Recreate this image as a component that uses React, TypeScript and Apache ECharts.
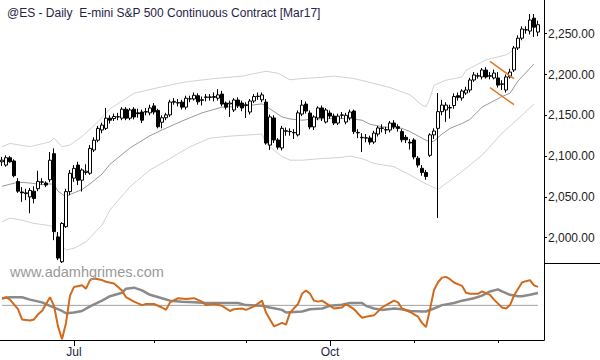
import React, { useEffect, useRef } from 'react';
import * as echarts from 'echarts';

const chartTitle = '@ES - Daily  E-mini S&P 500 Continuous Contract [Mar17]';
const watermark = 'www.adamhgrimes.com';
const firstDay = '2016-06-07';
const lastDay = '2016-12-15';
const holidays = ['2016-07-04', '2016-09-05', '2016-11-24'];
const monthNames = ['Jan', 'Feb', 'Mar', 'Apr', 'May', 'Jun', 'Jul', 'Aug', 'Sep', 'Oct', 'Nov', 'Dec'];
const labelledMonths = ['Jul', 'Oct'];

const opens = [
  2093, 2089, 2098, 2094, 2069, 2056, 2054, 2050, 2057, 2060, 2068, 2067, 2071, 2103, 2001, 1970.5, 2013.5, 2056.5, 2073, 2089,
  2070.5, 2080, 2079, 2107.5, 2119.5, 2132, 2134, 2146.5, 2146, 2148, 2146.5, 2157.5, 2146.5, 2157.5, 2153, 2154, 2154, 2153, 2161.5, 2156,
  2141.5, 2147, 2150.5, 2166, 2165, 2166.25, 2160, 2170, 2170, 2174, 2169, 2172, 2172.5, 2172, 2171, 2176, 2165, 2164, 2156.5, 2168.75,
  2165, 2162, 2154, 2167.5, 2173.5, 2169, 2166.25, 2113.5, 2146.75, 2119.75, 2110, 2131, 2130, 2129, 2126, 2151.5, 2163.75, 2152.75, 2135.75, 2146.75,
  2159, 2141.75, 2152.75, 2149, 2140.5, 2150, 2141.75, 2146.75, 2155.25, 2129, 2123, 2122, 2122.25, 2117.25, 2127, 2134, 2132, 2132, 2140.5, 2136,
  2130, 2123, 2117, 2119.75, 2097.5, 2085, 2080, 2101, 2126, 2134, 2154.5, 2156.5, 2159, 2162, 2174, 2171.25, 2177.25, 2181, 2193.25, 2198,
  2197, 2205.5, 2198.5, 2195.75, 2195.75, 2188.5, 2181, 2197, 2205.5, 2232.5, 2244.5, 2254.5, 2253.25, 2269, 2252
];
const highs = [
  2099, 2101, 2100, 2096, 2073, 2062, 2060, 2061, 2063, 2082, 2073, 2069, 2105, 2109.5, 2007, 2019, 2060, 2083, 2089, 2093,
  2085, 2090, 2113.5, 2123, 2137, 2141, 2159, 2150, 2152, 2153, 2160, 2160, 2159, 2160, 2158, 2157, 2159, 2163, 2165, 2158,
  2150, 2153, 2169, 2171, 2170, 2169, 2174, 2174, 2178, 2177, 2173, 2176, 2176, 2178, 2182, 2180, 2167, 2168, 2171, 2172,
  2168, 2166, 2170, 2176, 2178, 2178, 2170, 2151, 2150, 2122, 2137, 2135, 2134, 2133, 2156, 2168.75, 2167, 2156, 2150, 2161,
  2162, 2159, 2156, 2152, 2152, 2154, 2153, 2157, 2157, 2133, 2128, 2127, 2125, 2131, 2137, 2139, 2136, 2143, 2144, 2139,
  2133, 2126, 2121, 2122, 2100, 2089, 2083, 2128, 2134, 2177.25, 2169, 2166, 2163, 2177, 2178, 2182, 2185, 2196, 2203, 2202,
  2208, 2209, 2203, 2206, 2203, 2193, 2200, 2207, 2235, 2248, 2259, 2259, 2274, 2274, 2266
];
const lows = [
  2088, 2087, 2092, 2074, 2055, 2044, 2046, 2030, 2042, 2057, 2065, 2062, 2068, 1997, 1972.5, 1969, 2012, 2052, 2068.5, 2064.5,
  2056.5, 2077, 2077, 2105, 2117, 2128, 2132, 2140, 2143, 2144, 2144, 2144, 2144, 2145, 2147, 2140.5, 2150, 2150, 2151, 2134,
  2134, 2144, 2148, 2163, 2161, 2157, 2157, 2166, 2168, 2163, 2162, 2167, 2168, 2167, 2168, 2161, 2157, 2148, 2154, 2159,
  2155, 2146.75, 2151, 2165, 2169, 2166, 2114, 2107.5, 2116, 2108, 2107, 2125, 2125, 2121, 2124, 2149, 2152, 2133, 2132, 2144,
  2143, 2140, 2146, 2138, 2138, 2146, 2139, 2144, 2127, 2122, 2105, 2117, 2114, 2115, 2124, 2129, 2127, 2129, 2133, 2130,
  2117, 2116, 2108, 2096, 2086, 2076, 2071, 2099, 2121, 2024.25, 2150, 2142, 2146, 2158, 2168, 2168, 2175, 2178, 2191, 2195,
  2194, 2195, 2194, 2194, 2184, 2181, 2178, 2195, 2203, 2230, 2242, 2250, 2249, 2246, 2247
];
const closes = [
  2095, 2098, 2093, 2076, 2057, 2055, 2055, 2058, 2048, 2069, 2068.5, 2064.5, 2095, 2007.5, 1975, 2017.5, 2056.5, 2079, 2085, 2070.5,
  2083, 2081.5, 2109.5, 2119.5, 2134, 2138, 2146.5, 2144, 2148.5, 2148.25, 2157.5, 2146.5, 2156.5, 2148, 2152, 2144, 2154.5, 2159, 2154, 2136,
  2147, 2150.5, 2166.25, 2167, 2165.5, 2160, 2171, 2170.25, 2174.5, 2166.5, 2168.5, 2172.5, 2172, 2173, 2175, 2163.75, 2160, 2165, 2168.75, 2162,
  2159, 2163, 2167.5, 2173, 2173, 2175, 2116, 2148, 2119.75, 2111, 2134, 2130.5, 2130.25, 2128.5, 2153, 2162.5, 2155.25, 2135.75, 2148, 2159,
  2146.75, 2156.5, 2149, 2140.5, 2149, 2150.5, 2150, 2154, 2130, 2128.5, 2122.5, 2122.5, 2117.25, 2128.25, 2134.5, 2134.5, 2132.5, 2140.5, 2135.75, 2134,
  2120, 2120, 2116, 2099, 2089, 2080, 2075, 2126, 2130.75, 2154.5, 2162.5, 2162.5, 2159.5, 2173, 2172, 2179.75, 2181, 2193.25, 2199.5, 2198.5,
  2205.5, 2197, 2198, 2201.75, 2187, 2188, 2197, 2203, 2232.5, 2244.5, 2255.75, 2255, 2266.75, 2258, 2261
];

const midBand = [
  [0, 2063], [4, 2068], [7, 2067], [10, 2065], [12, 2066], [13, 2065], [14, 2057], [16, 2050], [17, 2053], [20, 2059],
  [22, 2066], [25, 2078], [27, 2090], [30, 2102], [32, 2110], [37, 2125], [40, 2132], [45, 2143], [50, 2153], [55, 2160],
  [60, 2161], [65, 2164], [66, 2161], [70, 2148], [72, 2145.5], [75, 2144], [77, 2145], [82, 2146], [87, 2146], [90, 2144],
  [92, 2139], [95, 2136], [97, 2135], [100, 2134], [102, 2130], [105, 2122], [107, 2117], [108, 2118.5], [110, 2127], [112, 2134],
  [115, 2140], [117, 2145], [120, 2160], [125, 2173], [127, 2177], [129, 2192], [133, 2213]
];
const upperBand = [
  [0, 2111.5], [2, 2115.5], [7, 2111.5], [12, 2117.5], [13, 2122], [15, 2111.5], [17, 2113.5], [20, 2124], [24, 2142], [27, 2158],
  [33, 2177], [40, 2185], [46, 2191], [53, 2195], [60, 2198], [66, 2204], [69, 2201.5], [72, 2193.5], [75, 2195], [80, 2196.5],
  [83, 2198], [88, 2195], [93, 2189], [97, 2184], [102, 2175], [105, 2162.5], [106, 2160.5], [107, 2171], [108, 2187], [111, 2193],
  [115, 2197], [116, 2205], [121, 2218], [126, 2224], [128, 2230]
];
const lowerBand = [
  [0, 2019.5], [2, 2024], [5, 2021.5], [8, 2017.5], [11, 2015.5], [13, 2013.5], [14, 1995], [16, 1985], [18, 1987], [21, 1995],
  [25, 2015.5], [27, 2034], [32, 2062.5], [37, 2083], [42, 2097], [47, 2111.5], [52, 2122], [57, 2124.5], [62, 2126], [65, 2127],
  [66, 2115.5], [70, 2099.5], [72, 2095], [75, 2095], [80, 2097], [85, 2098.5], [87, 2100], [90, 2097], [93, 2091], [98, 2087],
  [102, 2077], [105, 2068.5], [109, 2059], [111, 2066.5], [115, 2081], [120, 2101], [125, 2128], [130, 2150], [133, 2164]
];
const oscFast = [
  [0, 8.3], [1, 10.6], [2, 7.4], [4, -5], [5, -18.3], [7, -19.7], [8, -18.3], [9, -11.7], [10, -7.3], [12, 10.6],
  [13, -0.6], [14, -27.3], [15, -44], [16, -22.8], [17, 12.7], [18, 23.9], [20, 26], [21, 21.7], [22, 32.8], [23, 35],
  [25, 32.8], [26, 30.6], [28, 28.3], [30, 19.4], [31, 10.6], [33, 4.8], [35, 0.3], [36, 1.7], [38, 1.7], [40, -2.8],
  [41, -5.9], [42, 3.9], [44, 9.3], [46, 8.3], [48, 9.3], [50, 4.8], [51, 0.3], [53, 1.7], [55, -0.6], [57, -7.3],
  [58, -5], [60, -4.1], [61, -5.9], [63, -1.4], [65, 6.1], [66, -9.4], [67, -18.3], [68, -27.3], [70, -22.8], [71, -25],
  [72, -9.4], [74, 1.7], [75, 15], [76, 19.4], [77, 15], [78, 6.1], [79, 4.8], [80, 6.1], [82, -0.6], [83, -4.1],
  [85, -2.8], [86, 1.7], [88, -5], [90, -16.1], [91, -14.7], [93, -13], [95, -2.8], [96, 0.3], [98, 6.1], [99, 3.9],
  [100, -4.1], [102, -8.6], [104, -14.7], [105, -22.8], [106, -28.1], [107, -5], [108, 20], [109, 30], [110, 36], [111, 37],
  [112, 34], [113, 29.7], [115, 25.3], [116, 16.3], [117, 15], [119, 15], [120, 18.1], [122, 13.7], [123, 7.4], [125, -2.8],
  [126, -4.1], [127, 0.3], [128, 12.7], [130, 29.7], [131, 31.4], [132, 32.8], [133, 26], [134, 23.9]
];
const oscSlow = [
  [0, 9.3], [2, 10.6], [5, 10.6], [7, 7.4], [10, 3.9], [12, -0.6], [15, -7.3], [16, -10.3], [18, -9.4], [20, -7.3],
  [22, -1.4], [25, 6.1], [27, 11.9], [30, 16.3], [31, 21.7], [33, 23], [35, 19.4], [37, 13.7], [40, 9.3], [42, 6.1],
  [45, 4.8], [48, 3.9], [51, 3], [55, 3], [59, 3], [61, 0.3], [65, -0.6], [67, -2.8], [70, -5.9], [71, -9.4],
  [75, -8], [77, -5], [80, -4.1], [82, -0.6], [85, 0.7], [87, 3], [90, 3], [91, -0.6], [93, -4.1], [95, -5.9],
  [98, -4.1], [100, -5], [102, -7.3], [105, -8], [106, -8], [108, -4.1], [110, 0.3], [113, 3], [115, 6.1], [118, 9.3],
  [120, 12.7], [122, 18.1], [124, 20.7], [125, 18.1], [127, 13.7], [129, 11.9], [130, 11.9], [132, 13.7], [134, 16]
];
const zeroLevel = 0;
const upperTrend = [[122, 2216], [128, 2195]];
const lowerTrend = [[122, 2184], [128, 2163]];
const priceTicks = [2000, 2050, 2100, 2150, 2200, 2250];
const priceMin = 1969;
const priceMax = 2291.3;
const oscMin = -45;
const oscMax = 55;

function tradingDays(from: string, to: string, skip: string[]) {
  const out: string[] = [];
  const d = new Date(from + 'T00:00:00Z');
  const end = new Date(to + 'T00:00:00Z');
  while (d <= end) {
    const dow = d.getUTCDay();
    const iso = d.toISOString().slice(0, 10);
    if (dow !== 0 && dow !== 6 && !skip.includes(iso)) out.push(iso);
    d.setUTCDate(d.getUTCDate() + 1);
  }
  return out;
}

const FONT = 'Liberation Sans, Arial, sans-serif';

export default function App() {
  const ref = useRef<HTMLDivElement>(null);
  useEffect(() => {
    document.body.style.margin = '0';
    if (!ref.current) return;
    const chart = echarts.init(ref.current, undefined, { renderer: 'svg' });
    const dates = tradingDays(firstDay, lastDay, holidays);
    const categories = [...dates, ''];
    const monthOf = (s: string) => (s ? Number(s.slice(5, 7)) - 1 : -1);
    const isMonthStart = (i: number) =>
      i > 0 && i < dates.length && monthOf(dates[i]) !== monthOf(dates[i - 1]);
    const isLabelled = (i: number) =>
      isMonthStart(i) && labelledMonths.includes(monthNames[monthOf(dates[i])]);
    const candles = opens.map((o, i) => [o, closes[i], lows[i], highs[i]]);
    const lastIndex = dates.length - 1;

    const bandLine = (data: number[][], color: string) => ({
      type: 'line',
      xAxisIndex: 0,
      yAxisIndex: 0,
      data,
      showSymbol: false,
      silent: true,
      z: 1,
      lineStyle: { color, width: 1 },
    });

    chart.setOption({
      animation: false,
      backgroundColor: '#fff',
      title: {
        text: chartTitle,
        left: 2,
        top: 2,
        textStyle: { fontFamily: FONT, fontSize: 12, fontWeight: 'normal', color: '#1f2448' },
      },
      graphic: [
        {
          type: 'text',
          left: 10,
          top: 264,
          z: 100,
          style: { text: watermark, fontFamily: FONT, fontSize: 14.5, fill: '#9a9a9a' },
        },
        {
          type: 'line',
          shape: { x1: 544, y1: 263.5, x2: 600, y2: 263.5 },
          style: { stroke: '#000', lineWidth: 1 },
        },
      ],
      grid: [
        { left: -1, right: 56, top: 0, height: 263 },
        { left: -1, right: 56, top: 263, height: 77 },
      ],
      xAxis: [
        { type: 'category', gridIndex: 0, data: categories, boundaryGap: true, show: false },
        {
          type: 'category',
          gridIndex: 1,
          position: 'bottom',
          offset: 0,
          data: categories,
          boundaryGap: true,
          axisLine: { show: true, onZero: false, lineStyle: { color: '#000', width: 1 } },
          axisTick: {
            show: true,
            alignWithLabel: true,
            length: 3,
            interval: (i: number) => isMonthStart(i),
            lineStyle: { color: '#000' },
          },
          axisLabel: { show: false },
          splitLine: { show: false },
        },
        {
          type: 'category',
          gridIndex: 1,
          position: 'bottom',
          offset: 0,
          data: categories,
          boundaryGap: true,
          axisLine: { show: false, onZero: false },
          axisTick: {
            show: true,
            alignWithLabel: true,
            length: 6,
            interval: (i: number) => isLabelled(i),
            lineStyle: { color: '#000' },
          },
          axisLabel: {
            show: true,
            interval: (i: number) => isLabelled(i),
            formatter: (v: string) => (v ? monthNames[monthOf(v)] : ''),
            fontFamily: FONT,
            fontSize: 12,
            color: '#1f2448',
            margin: 6,
          },
          splitLine: { show: false },
        },
      ],
      yAxis: [
        {
          type: 'value',
          gridIndex: 0,
          position: 'right',
          min: priceMin,
          max: priceMax,
          axisLine: { show: true, onZero: false, lineStyle: { color: '#000', width: 1 } },
          axisTick: { show: true, length: 3, customValues: priceTicks, lineStyle: { color: '#000' } },
          axisLabel: {
            show: true,
            customValues: priceTicks,
            formatter: (v: number) =>
              v.toLocaleString('en-US', { minimumFractionDigits: 2, maximumFractionDigits: 2 }),
            fontFamily: FONT,
            fontSize: 12,
            color: '#222',
            margin: 4,
          },
          splitLine: { show: false },
        },
        {
          type: 'value',
          gridIndex: 1,
          position: 'right',
          min: oscMin,
          max: oscMax,
          axisLine: { show: true, onZero: false, lineStyle: { color: '#000', width: 1 } },
          axisTick: { show: false },
          axisLabel: { show: false },
          splitLine: { show: false },
        },
      ],
      series: [
        bandLine(upperBand, '#d2d2d2'),
        bandLine(lowerBand, '#d2d2d2'),
        bandLine(midBand, '#9a9a9a'),
        {
          type: 'candlestick',
          xAxisIndex: 0,
          yAxisIndex: 0,
          data: candles,
          barWidth: 3,
          z: 3,
          itemStyle: {
            color: '#fff',
            color0: '#000',
            borderColor: '#000',
            borderColor0: '#000',
            borderWidth: 1,
          },
        },
        {
          type: 'line',
          xAxisIndex: 0,
          yAxisIndex: 0,
          data: upperTrend,
          showSymbol: false,
          z: 4,
          lineStyle: { color: '#e07a26', width: 1.5 },
        },
        {
          type: 'line',
          xAxisIndex: 0,
          yAxisIndex: 0,
          data: lowerTrend,
          showSymbol: false,
          z: 4,
          lineStyle: { color: '#e07a26', width: 1.5 },
        },
        {
          type: 'line',
          xAxisIndex: 1,
          yAxisIndex: 1,
          data: [
            [0, zeroLevel],
            [lastIndex, zeroLevel],
          ],
          showSymbol: false,
          silent: true,
          z: 1,
          lineStyle: { color: '#a0a0a0', width: 1 },
        },
        {
          type: 'line',
          xAxisIndex: 1,
          yAxisIndex: 1,
          data: oscSlow,
          showSymbol: false,
          z: 2,
          lineStyle: { color: '#8a8a8a', width: 2.5 },
        },
        {
          type: 'line',
          xAxisIndex: 1,
          yAxisIndex: 1,
          data: oscFast,
          showSymbol: false,
          z: 3,
          lineStyle: { color: '#d06a1c', width: 2 },
        },
      ],
    });
    return () => chart.dispose();
  }, []);
  return <div ref={ref} style={{ width: 600, height: 360 }} />;
}
